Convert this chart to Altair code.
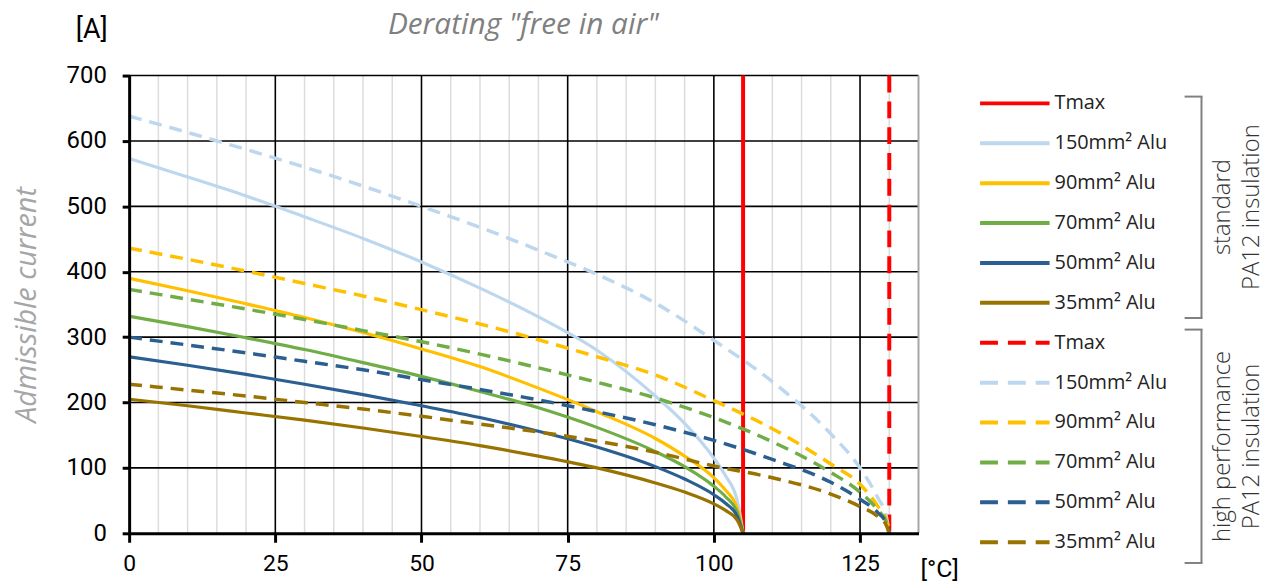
import altair as alt
import pandas as pd

# ---------------- data ----------------
SIZES = ["150mm² Alu", "90mm² Alu", "70mm² Alu", "50mm² Alu", "35mm² Alu"]
COLORS = ["#BDD7EE", "#FFC000", "#70AD47", "#2B5F91", "#997300"]

# standard PA12 insulation (Tmax 105 °C)
T_STD = [0, 10, 20, 30, 40, 50, 60, 70, 80, 90, 95, 100, 102, 104, 105]
STD_150 = [573, 545, 516, 484, 451, 415, 375, 331, 280, 210, 168, 115, 88, 50, 0]
STD_90 = [390, 371, 351, 330, 307, 282, 255, 222, 186, 145, 118, 85, 66, 38, 0]
STD_70 = [332, 316, 299, 281, 261, 240, 217, 192, 162, 125, 102, 72, 56, 32, 0]
STD_50 = [270, 257, 243, 228, 212, 195, 177, 156, 132, 102, 83, 59, 46, 26, 0]
STD_35 = [205, 195, 184, 173, 161, 148, 134, 118, 100, 77, 63, 45, 35, 20, 0]

# high performance PA12 insulation (Tmax 130 °C)
T_HP = [0, 10, 20, 30, 40, 50, 60, 70, 80, 90, 100, 110, 120, 125, 128, 129.5, 130]
HP_150 = [638, 613, 587, 560, 531, 500, 468, 433, 396, 352, 295, 232, 152, 100, 55, 25, 0]
HP_90 = [436, 419, 401, 382, 363, 342, 320, 296, 270, 242, 203, 160, 106, 75, 42, 20, 0]
HP_70 = [373, 358, 343, 327, 310, 293, 274, 253, 231, 207, 177, 140, 93, 63, 36, 17, 0]
HP_50 = [300, 288, 276, 263, 250, 235, 220, 204, 186, 166, 142, 113, 78, 52, 32, 15, 0]
HP_35 = [228, 219, 210, 200, 190, 179, 167, 155, 141, 124, 103, 85, 60, 41, 26, 12, 0]

TMAX_STD = 105
TMAX_HP = 130

X_TICKS = [0, 25, 50, 75, 100, 125]
X_MINOR = [5, 10, 15, 20, 30, 35, 40, 45, 55, 60, 65, 70, 80, 85, 90, 95,
           105, 110, 115, 120, 130]
X_MAX = 135
Y_TICKS = [0, 100, 200, 300, 400, 500, 600, 700]
Y_MAX = 700

GROUP_STD = "standard PA12 insulation"
GROUP_HP = "high performance PA12 insulation"

# ---------------- tables ----------------
rows = []
for name, vals in zip(SIZES, [STD_150, STD_90, STD_70, STD_50, STD_35]):
    for t, v in zip(T_STD, vals):
        rows.append({"T": t, "I": v, "size": name, "group": "std"})
for name, vals in zip(SIZES, [HP_150, HP_90, HP_70, HP_50, HP_35]):
    for t, v in zip(T_HP, vals):
        rows.append({"T": t, "I": v, "size": name, "group": "hp"})
curves = pd.DataFrame(rows)

minor_df = pd.DataFrame({"x": X_MINOR})
major_x_df = pd.DataFrame({"x": X_TICKS[1:]})
major_y_df = pd.DataFrame({"y": Y_TICKS[1:]})
border_df = pd.DataFrame({"x": [X_MAX]})
tmax_std_df = pd.DataFrame({"x": [TMAX_STD]})
tmax_hp_df = pd.DataFrame({"x": [TMAX_HP]})

W, H = 795, 461

xscale = alt.Scale(domain=[0, X_MAX], nice=False)
yscale = alt.Scale(domain=[0, Y_MAX], nice=False)

X_AX = alt.Axis(values=X_TICKS, title=None, grid=False, labelFlush=False,
                labelOverlap=False, labelFont="Roboto", labelFontSize=23,
                labelColor="#000000", labelPadding=10, tickSize=9, tickWidth=3,
                tickColor="#000000", domainColor="#000000", domainWidth=3,
                zindex=1)
Y_AX = alt.Axis(values=Y_TICKS, title="Admissible current", grid=False,
                labelFont="Roboto", labelFontSize=24, labelColor="#000000",
                labelPadding=16, tickSize=7, tickWidth=3, tickColor="#000000",
                domainColor="#000000", domainWidth=3, labelFlush=False,
                titleFont="Open Sans", titleFontStyle="italic",
                titleFontWeight="normal", titleFontSize=29,
                titleColor="#A6A6A6", titlePadding=25, zindex=1)

xenc = lambda f: alt.X(f, scale=xscale, axis=X_AX)
yenc = lambda f: alt.Y(f, scale=yscale, axis=Y_AX)

minor = alt.Chart(minor_df).mark_rule(color="#DCDCDC", strokeWidth=1.5).encode(
    x=xenc("x:Q"))
major_x = alt.Chart(major_x_df).mark_rule(color="#000000", strokeWidth=1.6).encode(
    x=xenc("x:Q"))
major_y = alt.Chart(major_y_df).mark_rule(color="#000000", strokeWidth=1.6).encode(
    y=yenc("y:Q"))
border = alt.Chart(border_df).mark_rule(color="#A6A6A6", strokeWidth=2).encode(
    x=xenc("x:Q"))
tmax_std = alt.Chart(tmax_std_df).mark_rule(color="#FF0000", strokeWidth=4).encode(
    x=xenc("x:Q"))
tmax_hp = alt.Chart(tmax_hp_df).mark_rule(color="#FF0000", strokeWidth=4,
                                          strokeDash=[17, 9]).encode(x=xenc("x:Q"))

color = alt.Color("size:N", scale=alt.Scale(domain=SIZES, range=COLORS), legend=None)

std_lines = alt.Chart(curves).transform_filter(alt.datum.group == "std").mark_line(
    strokeWidth=3.2, interpolate="monotone").encode(
    x=xenc("T:Q"), y=yenc("I:Q"), color=color, detail="size:N")
hp_lines = alt.Chart(curves).transform_filter(alt.datum.group == "hp").mark_line(
    strokeWidth=3.5, strokeDash=[13, 8], interpolate="monotone").encode(
    x=xenc("T:Q"), y=yenc("I:Q"), color=color, detail="size:N")

ann_df = pd.DataFrame({"x": [-3.7, X_MAX], "y": [758, -66.5],
                       "t": ["[A]", "[°C]"]})
ann_a = alt.Chart(ann_df.iloc[[0]]).mark_text(
    font="Roboto", fontSize=27, color="#000000", align="right",
    baseline="alphabetic").encode(x=xenc("x:Q"), y=yenc("y:Q"), text="t:N")
ann_c = alt.Chart(ann_df.iloc[[1]]).mark_text(
    font="Roboto", fontSize=25, color="#000000", align="left", dx=2,
    baseline="alphabetic").encode(x=xenc("x:Q"), y=yenc("y:Q"), text="t:N")
title_df = pd.DataFrame({"x": [67.4], "y": [763.5], "t": ['Derating "free in air"']})
title = alt.Chart(title_df).mark_text(
    font="Open Sans", fontStyle="italic", fontSize=30, color="#808080",
    align="center", baseline="alphabetic").encode(
    x=xenc("x:Q"), y=yenc("y:Q"), text="t:N")

main = alt.layer(minor, major_x, major_y, border, tmax_std, tmax_hp,
                 std_lines, hp_lines, ann_a, ann_c, title).properties(
    width=W, height=H)

# ---------------- legend ----------------
LEG_LABELS = ["Tmax"] + SIZES + ["Tmax"] + SIZES
LEG_COLORS = ["#FF0000"] + COLORS + ["#FF0000"] + COLORS
LEG_DASHED = [False] * 6 + [True] * 6
leg = pd.DataFrame({"row": list(range(12)), "label": LEG_LABELS,
                    "color": LEG_COLORS, "dashed": LEG_DASHED})

brk = pd.DataFrame({"g": [GROUP_STD, GROUP_HP],
                    "y0": [0 - 0.17, 6 - 0.33],
                    "y1": [5 + 0.38, 11 + 0.52]})
glab = pd.DataFrame({"t": ["standard", "PA12 insulation",
                           "high performance", "PA12 insulation"],
                     "col": [0, 1, 0, 1],
                     "row": [2.6, 2.6, 8.6, 8.6]})

LW = 280
ROW_H = 40.18
TOP_OFF = 28
ly = alt.Scale(domain=[-TOP_OFF / ROW_H, (H - TOP_OFF) / ROW_H], nice=False,
               reverse=True)

def ly_enc(f):
    return alt.Y(f, scale=ly, axis=None)

leg_solid = alt.Chart(leg).transform_filter(~alt.datum.dashed).mark_rule(
    strokeWidth=4).encode(x=alt.value(0), x2=alt.value(70), y=ly_enc("row:Q"),
                          color=alt.Color("color:N", scale=None))
leg_dash = alt.Chart(leg).transform_filter(alt.datum.dashed).mark_rule(
    strokeWidth=4, strokeDash=[18, 10]).encode(
    x=alt.value(0), x2=alt.value(70), y=ly_enc("row:Q"),
    color=alt.Color("color:N", scale=None))
leg_text = alt.Chart(leg).mark_text(
    align="left", baseline="middle", font="Open Sans", fontSize=20,
    color="#222222").encode(x=alt.value(75), y=ly_enc("row:Q"), text="label:N")

brk_v = alt.Chart(brk).mark_rule(color="#808080", strokeWidth=2).encode(
    x=alt.value(223), y=ly_enc("y0:Q"), y2="y1:Q")
brk_t = alt.Chart(brk).mark_rule(color="#808080", strokeWidth=2).encode(
    x=alt.value(206), x2=alt.value(224), y=ly_enc("y0:Q"))
brk_b = alt.Chart(brk).mark_rule(color="#808080", strokeWidth=2).encode(
    x=alt.value(206), x2=alt.value(224), y=ly_enc("y1:Q"))
g0 = alt.Chart(glab).transform_filter(alt.datum.col == 0).mark_text(
    angle=270, align="center", baseline="middle", font="Open Sans",
    fontSize=24, fontWeight=300, color="#333333").encode(
    x=alt.value(245), y=ly_enc("row:Q"), text="t:N")
g1 = alt.Chart(glab).transform_filter(alt.datum.col == 1).mark_text(
    angle=270, align="center", baseline="middle", font="Open Sans",
    fontSize=24, fontWeight=300, color="#333333").encode(
    x=alt.value(274), y=ly_enc("row:Q"), text="t:N")

legend = alt.layer(leg_solid, leg_dash, leg_text, brk_v, brk_t, brk_b, g0, g1).properties(
    width=LW, height=H)

chart = alt.hconcat(main, legend, spacing=62, bounds="flush").properties(
    padding={"left": 4, "top": 0, "right": 6, "bottom": 0}
).configure_view(stroke=None)

chart.save("out.html", embed_options={"renderer": "svg", "actions": False})
